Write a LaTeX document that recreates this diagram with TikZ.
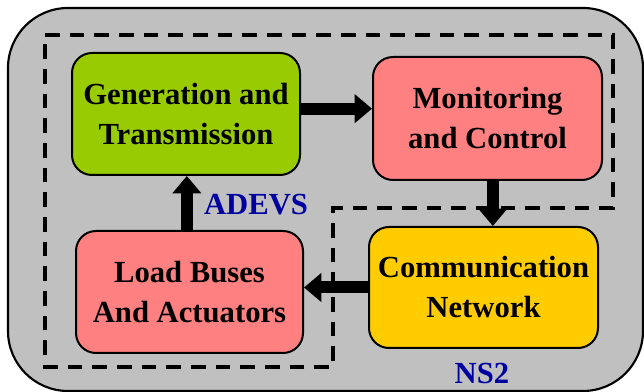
\documentclass[tikz,border=0pt]{standalone}
\usepackage{fontspec}
\setmainfont{Liberation Serif}
\usetikzlibrary{arrows.meta}
\definecolor{bggray}{RGB}{192,192,192}
\definecolor{gengreen}{RGB}{153,204,0}
\definecolor{boxpink}{RGB}{255,128,128}
\definecolor{boxyellow}{RGB}{255,204,0}
\definecolor{labelblue}{RGB}{0,0,160}
\tikzset{
  blockbox/.style={draw=black, line width=1.5pt, rounded corners=15pt, inner sep=0pt,
    align=center, font=\fontsize{23}{30}\selectfont\bfseries},
  regionline/.style={line width=3.2pt, dash pattern=on 11pt off 7.5pt},
  flowarrow/.style={line width=9pt, -{Triangle[length=13pt,width=21pt]}},
  simlabel/.style={text=labelblue, font=\fontsize{23}{28}\selectfont\bfseries, inner sep=0pt}
}
\begin{document}
\begin{tikzpicture}[x=0.75pt,y=-0.75pt]
\useasboundingbox (0,0) rectangle (644,392);
\clip (0,0) rectangle (644,392);
% outer frame
\draw[line width=1.6pt, fill=bggray, rounded corners=45pt] (8,8) rectangle (643,391);
% ADEVS dashed region
\draw[regionline] (45,35) -- (613,35) -- (613,208) -- (333,208) -- (333,367) -- (45,367) -- cycle;
% blocks
\node[blockbox, fill=gengreen, minimum width=171pt, minimum height=91.5pt] (gen) at (186,114)
  {Generation and\\Transmission};
\node[blockbox, fill=boxpink, minimum width=171.75pt, minimum height=92.25pt] (mon) at (487.5,118.5)
  {Monitoring\\and Control};
\node[blockbox, fill=boxyellow, minimum width=171.75pt, minimum height=90.75pt] (comm) at (483.5,287.5)
  {Communication\\Network};
\node[blockbox, fill=boxpink, minimum width=170.25pt, minimum height=91.5pt] (load) at (189.5,292)
  {Load Buses\\And Actuators};
% labels
\node[simlabel] (adevs) at (256,205) {ADEVS};
\node[simlabel] (ns2) at (482,373) {NS2};
% arrows
\draw[flowarrow] ([yshift=4pt]gen.east) -- ([yshift=4pt]gen.east -| mon.west);
\draw[flowarrow] ([xshift=4pt]mon.south) -- ([xshift=4pt]mon.south |- comm.north);
\draw[flowarrow] (comm.west) -- (comm.west -| load.east);
\draw[flowarrow] ([xshift=-2pt]load.north) -- ([xshift=-2pt]load.north |- gen.south);
\end{tikzpicture}
\end{document}
